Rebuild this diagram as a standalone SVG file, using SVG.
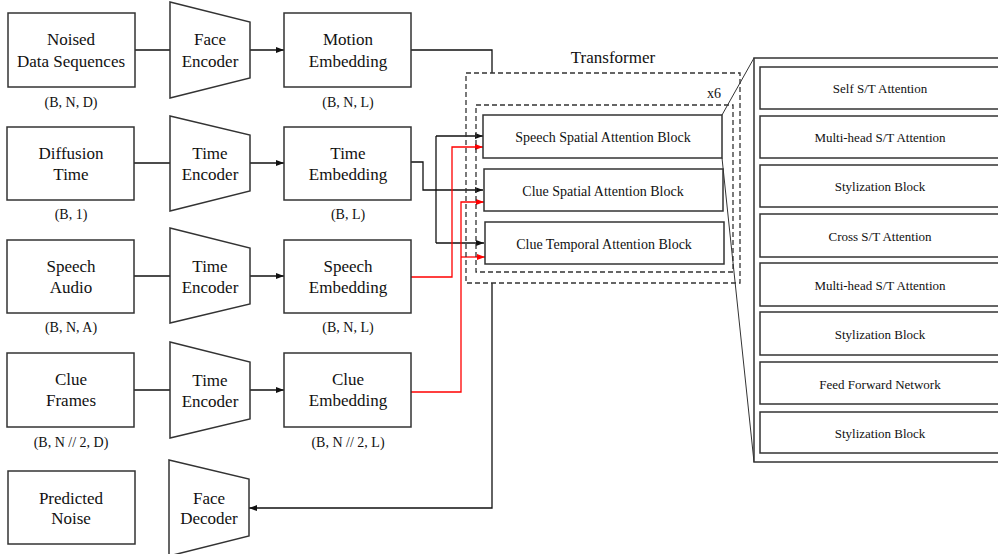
<svg xmlns="http://www.w3.org/2000/svg" width="998" height="554" viewBox="0 0 998 554">
<style>
.box{fill:#fff;stroke:#333;stroke-width:1.5}
.dash{fill:none;stroke:#333;stroke-width:1.3;stroke-dasharray:5,3}
text{font-family:'Liberation Serif','Times New Roman',Times,serif;fill:#111;text-anchor:middle;dominant-baseline:central}
.t{font-size:17px}
.s{font-size:14px}
.r{font-size:13px}
.k{fill:none;stroke:#111;stroke-width:1.3}
.ka{fill:none;stroke:#111;stroke-width:1.3;marker-end:url(#ab)}
.kra{fill:none;stroke:#f00;stroke-width:1.3;marker-end:url(#ar)}
.zoom{fill:none;stroke:#333;stroke-width:1}
</style>
<defs>
<marker id="ab" markerUnits="userSpaceOnUse" markerWidth="8" markerHeight="6" refX="8" refY="3" orient="auto"><path d="M0,0 L8,3 L0,6 z" fill="#111"/></marker>
<marker id="ar" markerUnits="userSpaceOnUse" markerWidth="8" markerHeight="6" refX="8" refY="3" orient="auto"><path d="M0,0 L8,3 L0,6 z" fill="#f00"/></marker>
</defs>
<rect width="998" height="554" fill="#fff"/>

<g id="connectors">
<path class="k" d="M134,50 H170"/>
<path class="ka" d="M250,50 H284"/>
<path class="k" d="M134,163 H170"/>
<path class="ka" d="M250,163 H284"/>
<path class="k" d="M134,276 H170"/>
<path class="ka" d="M250,276 H284"/>
<path class="k" d="M134,390 H170"/>
<path class="ka" d="M250,390 H284"/>
<path class="k" d="M411,50 H492 V73"/>
<path class="ka" d="M411,162 H423 V190 H483"/>
<path class="k" d="M436,136 V243"/>
<path class="ka" d="M436,136 H483"/>
<path class="ka" d="M436,243 H484"/>
<path class="kra" d="M411,277 H452 V147 H483"/>
<path class="kra" d="M411,392 H461 V202 H484"/>
<path class="kra" d="M461,257 H485"/>
<path class="ka" d="M492,283 V508 H249"/>
<path class="zoom" d="M722,115 L754,58"/>
<path class="zoom" d="M722,158 L754,462"/>
</g>

<g id="noised-data">
<rect class="box" x="8" y="13" width="127" height="74"/>
<text class="t" x="71" y="39">Noised</text>
<text class="t" x="71" y="61">Data Sequences</text>
<text class="s" x="71" y="102">(B, N, D)</text>
</g>
<g id="face-encoder">
<path class="box" d="M170,2 L250,22 L250,78 L170,98 z"/>
<text class="t" x="210" y="39">Face</text>
<text class="t" x="210" y="61">Encoder</text>
</g>
<g id="motion-embedding">
<rect class="box" x="284" y="13" width="127" height="74"/>
<text class="t" x="348" y="39">Motion</text>
<text class="t" x="348" y="61">Embedding</text>
<text class="s" x="348" y="102">(B, N, L)</text>
</g>

<g id="diffusion-time">
<rect class="box" x="7" y="127" width="127" height="73"/>
<text class="t" x="71" y="153">Diffusion</text>
<text class="t" x="71" y="174">Time</text>
<text class="s" x="71" y="214">(B, 1)</text>
</g>
<g id="time-encoder-1">
<path class="box" d="M170,116 L250,135 L250,191 L170,211 z"/>
<text class="t" x="210" y="153">Time</text>
<text class="t" x="210" y="174">Encoder</text>
</g>
<g id="time-embedding">
<rect class="box" x="284" y="127" width="127" height="73"/>
<text class="t" x="348" y="153">Time</text>
<text class="t" x="348" y="174">Embedding</text>
<text class="s" x="348" y="214">(B, L)</text>
</g>

<g id="speech-audio">
<rect class="box" x="7" y="240" width="127" height="73"/>
<text class="t" x="71" y="266">Speech</text>
<text class="t" x="71" y="287">Audio</text>
<text class="s" x="71" y="327">(B, N, A)</text>
</g>
<g id="time-encoder-2">
<path class="box" d="M170,228 L250,248 L250,304 L170,323 z"/>
<text class="t" x="210" y="266">Time</text>
<text class="t" x="210" y="287">Encoder</text>
</g>
<g id="speech-embedding">
<rect class="box" x="284" y="240" width="127" height="73"/>
<text class="t" x="348" y="266">Speech</text>
<text class="t" x="348" y="287">Embedding</text>
<text class="s" x="348" y="327">(B, N, L)</text>
</g>

<g id="clue-frames">
<rect class="box" x="7" y="353" width="127" height="74"/>
<text class="t" x="71" y="379">Clue</text>
<text class="t" x="71" y="400">Frames</text>
<text class="s" x="71" y="442">(B, N // 2, D)</text>
</g>
<g id="time-encoder-3">
<path class="box" d="M170,342 L250,362 L250,419 L170,438 z"/>
<text class="t" x="210" y="380">Time</text>
<text class="t" x="210" y="401">Encoder</text>
</g>
<g id="clue-embedding">
<rect class="box" x="284" y="353" width="127" height="74"/>
<text class="t" x="348" y="379">Clue</text>
<text class="t" x="348" y="400">Embedding</text>
<text class="s" x="348" y="442">(B, N // 2, L)</text>
</g>

<g id="predicted-noise">
<rect class="box" x="8" y="471" width="127" height="73"/>
<text class="t" x="71" y="498">Predicted</text>
<text class="t" x="71" y="518">Noise</text>
</g>
<g id="face-decoder">
<path class="box" d="M169,460 L249,479 L249,536 L169,556 z"/>
<text class="t" x="209" y="498">Face</text>
<text class="t" x="209" y="518">Decoder</text>
</g>

<g id="transformer">
<rect class="dash" x="466" y="73" width="274" height="210"/>
<text class="t" x="613" y="57">Transformer</text>
<rect class="dash" x="476" y="105" width="257" height="167"/>
<text class="s" x="714" y="93">x6</text>
</g>
<g id="speech-spatial-block">
<rect class="box" x="483" y="115" width="239" height="43"/>
<text class="s" x="603" y="137">Speech Spatial Attention Block</text>
</g>
<g id="clue-spatial-block">
<rect class="box" x="484" y="169" width="239" height="42"/>
<text class="s" x="603" y="191">Clue Spatial Attention Block</text>
</g>
<g id="clue-temporal-block">
<rect class="box" x="485" y="222" width="239" height="42"/>
<text class="s" x="604" y="244">Clue Temporal Attention Block</text>
</g>

<g id="detail-panel">
<rect class="box" x="754" y="58" width="260" height="404"/>
</g>
<g id="self-st-attention">
<rect class="box" x="760" y="67" width="260" height="42"/>
<text class="r" x="880" y="88">Self S/T Attention</text>
</g>
<g id="multihead-1">
<rect class="box" x="760" y="116" width="260" height="42"/>
<text class="r" x="880" y="137">Multi-head S/T Attention</text>
</g>
<g id="stylization-1">
<rect class="box" x="760" y="165" width="260" height="42"/>
<text class="r" x="880" y="186">Stylization Block</text>
</g>
<g id="cross-st-attention">
<rect class="box" x="760" y="214" width="260" height="43"/>
<text class="r" x="880" y="236">Cross S/T Attention</text>
</g>
<g id="multihead-2">
<rect class="box" x="760" y="263" width="260" height="43"/>
<text class="r" x="880" y="285">Multi-head S/T Attention</text>
</g>
<g id="stylization-2">
<rect class="box" x="760" y="312" width="260" height="43"/>
<text class="r" x="880" y="334">Stylization Block</text>
</g>
<g id="feed-forward">
<rect class="box" x="760" y="362" width="260" height="42"/>
<text class="r" x="880" y="384">Feed Forward Network</text>
</g>
<g id="stylization-3">
<rect class="box" x="760" y="412" width="260" height="41"/>
<text class="r" x="880" y="433">Stylization Block</text>
</g>
</svg>
